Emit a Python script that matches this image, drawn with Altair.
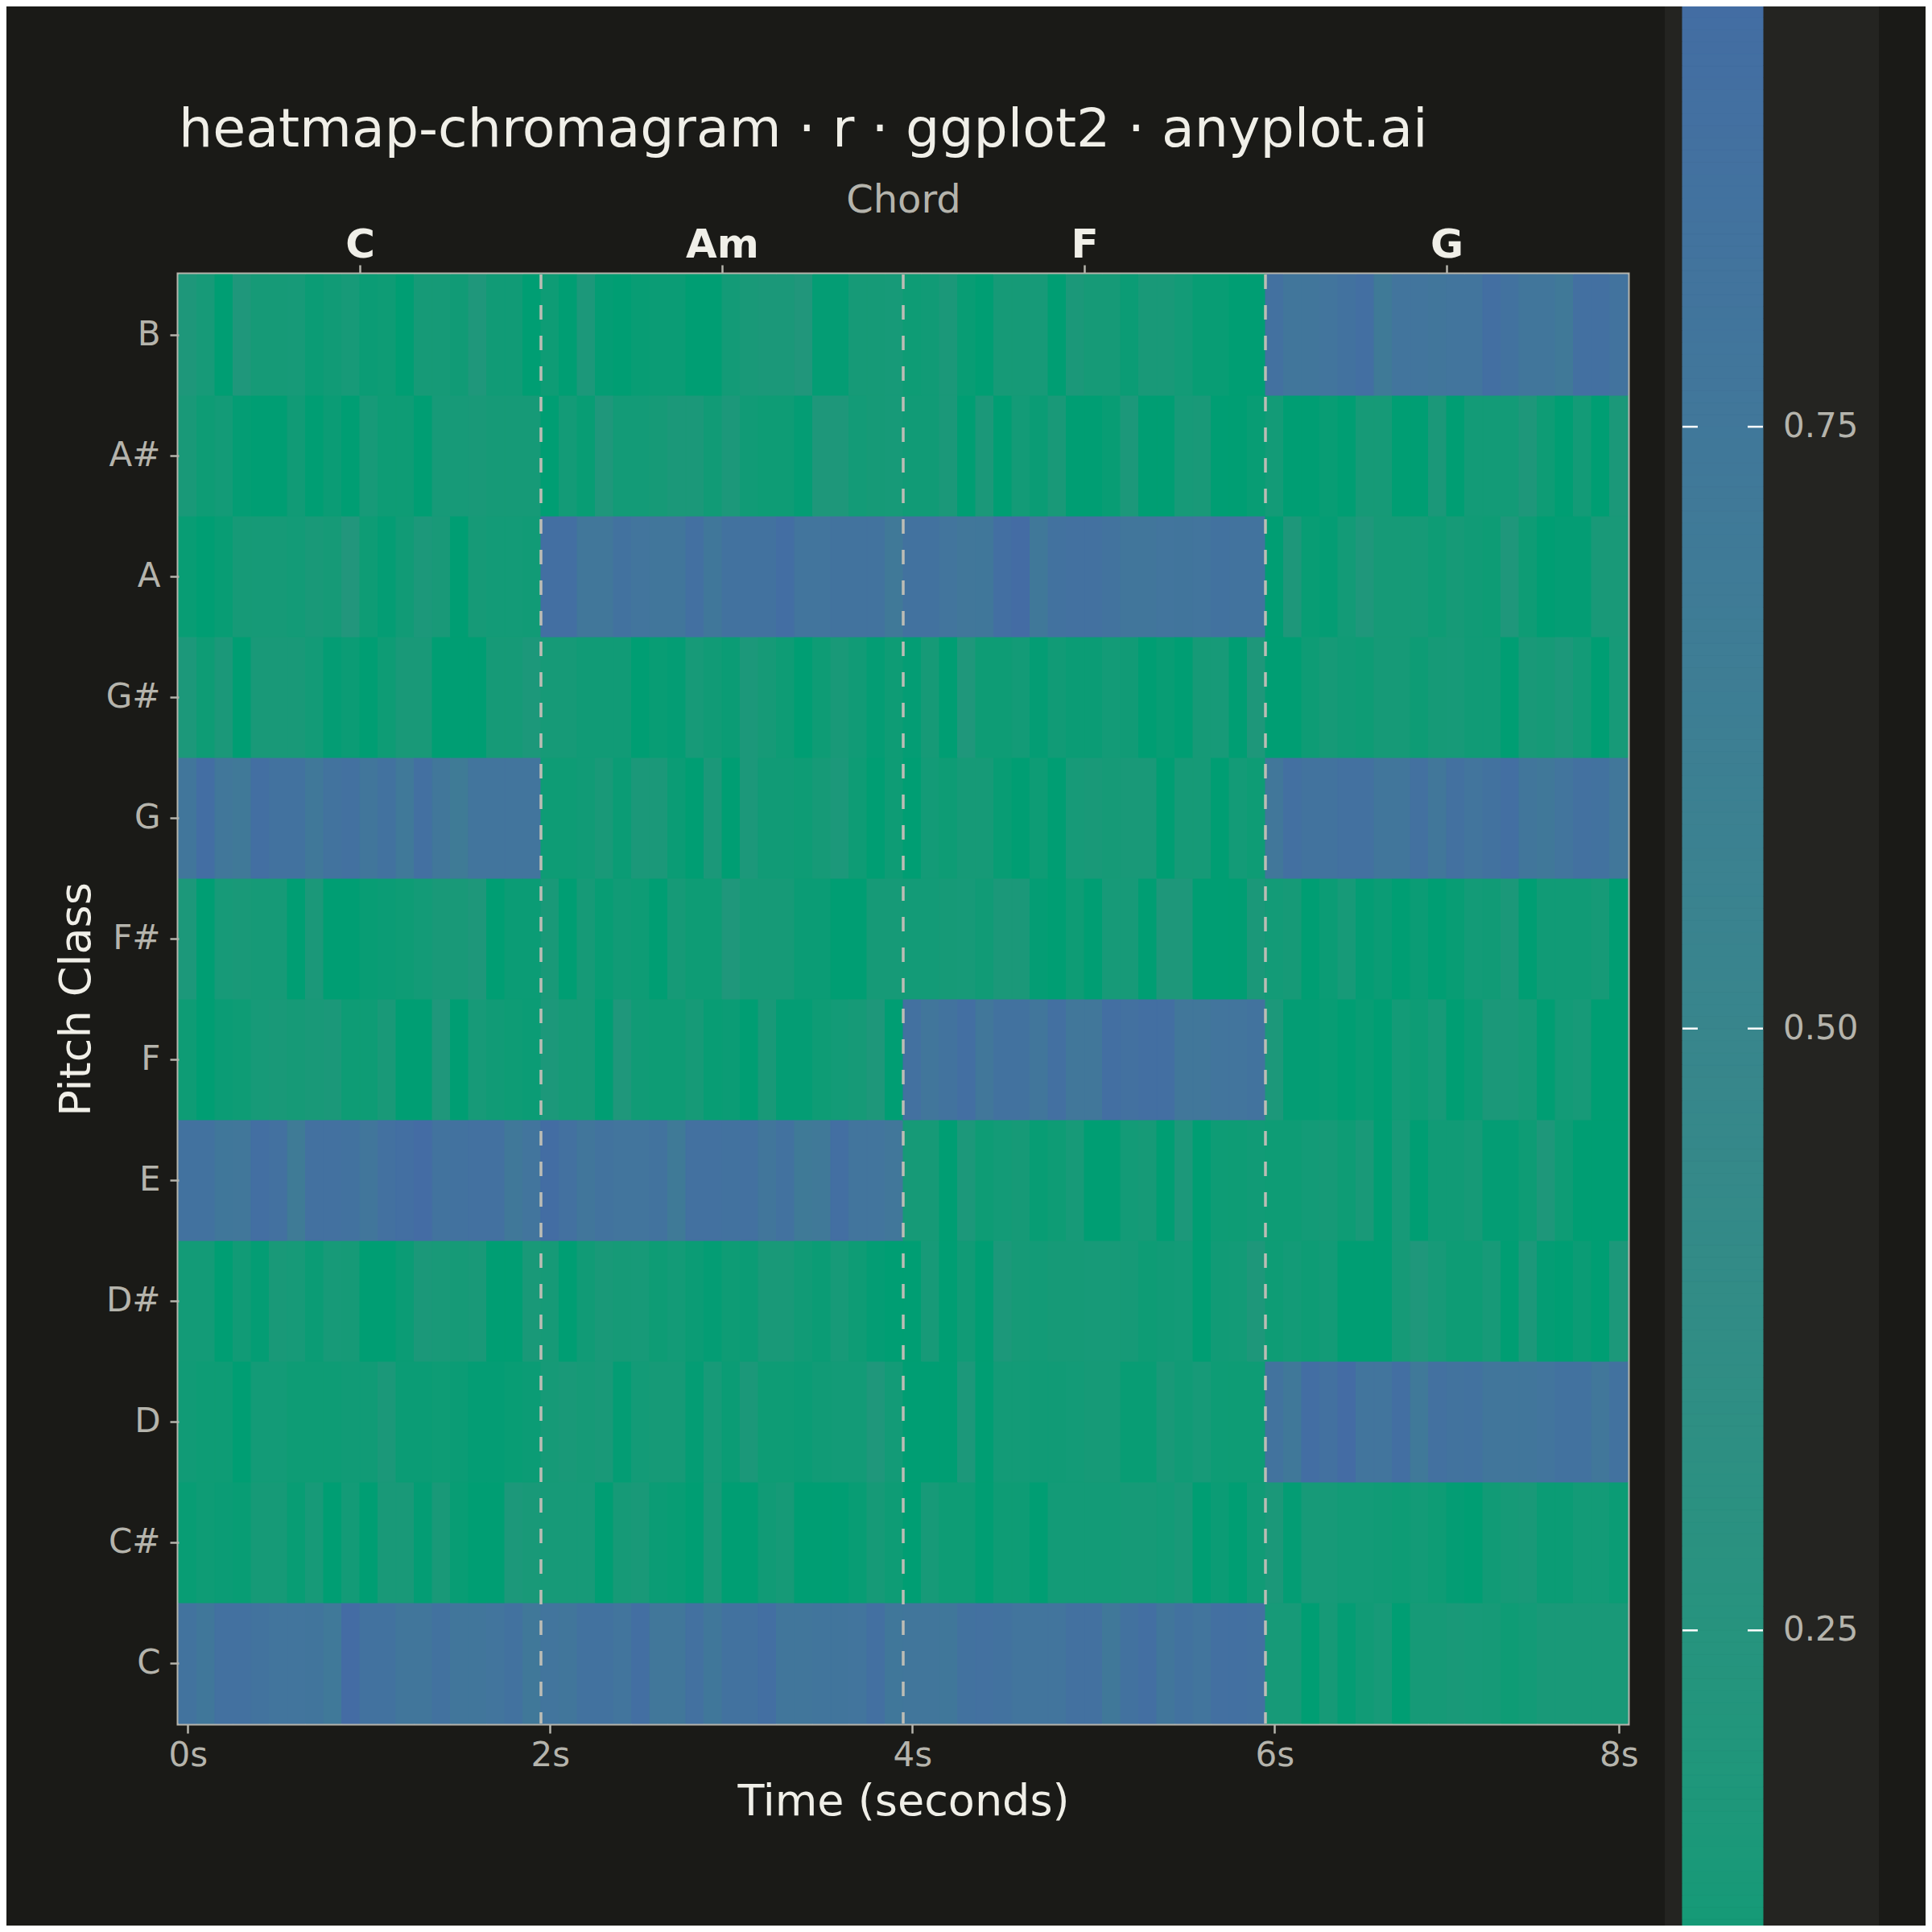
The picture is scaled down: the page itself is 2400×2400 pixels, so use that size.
import altair as alt
import pandas as pd

# ---------------- data ----------------
PITCHES = ["C", "C#", "D", "D#", "E", "F", "F#", "G", "G#", "A", "A#", "B"]
CHORDS = ["C", "Am", "F", "G"]
CHORD_CENTERS = [0.95, 2.95, 4.95, 6.95]
CHORD_BOUNDS = [1.95, 3.95, 5.95]
TIME_TICKS = [0, 2, 4, 6, 7.9]
TIME_LABELS = ["0s", "2s", "4s", "6s", "8s"]
FRAME_STEP = 0.1
COLORBAR_TICKS = [0.25, 0.5, 0.75]
COLORBAR_LABELS = ["0.25", "0.50", "0.75"]
TITLE = "heatmap-chromagram · r · ggplot2 · anyplot.ai"

B_VALS = [0.18, 0.14, 0.05, 0.19, 0.13, 0.13, 0.14, 0.09, 0.11, 0.14, 0.09, 0.10, 0.05, 0.13, 0.13, 0.11, 0.19, 0.11, 0.11, 0.06,
          0.10, 0.05, 0.17, 0.07, 0.06, 0.08, 0.09, 0.09, 0.05, 0.05, 0.12, 0.15, 0.16, 0.16, 0.20, 0.07, 0.07, 0.13, 0.13, 0.14,
          0.10, 0.11, 0.16, 0.08, 0.05, 0.13, 0.13, 0.14, 0.05, 0.16, 0.13, 0.13, 0.09, 0.15, 0.15, 0.12, 0.08, 0.08, 0.06, 0.05,
          0.86, 0.78, 0.78, 0.80, 0.84, 0.90, 0.70, 0.80, 0.80, 0.78, 0.80, 0.80, 0.90, 0.84, 0.78, 0.78, 0.72, 0.88, 0.88, 0.82]
AS_VALS = [0.15, 0.10, 0.12, 0.07, 0.05, 0.05, 0.11, 0.05, 0.09, 0.05, 0.14, 0.10, 0.10, 0.06, 0.14, 0.14, 0.15, 0.13, 0.13, 0.13,
           0.05, 0.12, 0.08, 0.19, 0.12, 0.12, 0.13, 0.16, 0.16, 0.11, 0.17, 0.11, 0.10, 0.10, 0.07, 0.18, 0.18, 0.12, 0.13, 0.14,
           0.11, 0.11, 0.16, 0.05, 0.16, 0.05, 0.12, 0.09, 0.15, 0.05, 0.05, 0.08, 0.17, 0.05, 0.05, 0.14, 0.15, 0.05, 0.06, 0.08,
           0.12, 0.05, 0.05, 0.08, 0.05, 0.13, 0.13, 0.05, 0.05, 0.16, 0.05, 0.12, 0.12, 0.12, 0.18, 0.10, 0.05, 0.12, 0.05, 0.16]
A_VALS = [0.08, 0.05, 0.08, 0.13, 0.13, 0.13, 0.12, 0.15, 0.13, 0.21, 0.10, 0.07, 0.11, 0.17, 0.15, 0.05, 0.13, 0.12, 0.12, 0.11,
          0.90, 0.90, 0.76, 0.76, 0.85, 0.80, 0.78, 0.78, 0.88, 0.75, 0.84, 0.84, 0.85, 0.92, 0.80, 0.80, 0.83, 0.83, 0.83, 0.72,
          0.84, 0.84, 0.80, 0.76, 0.75, 0.90, 0.95, 0.74, 0.84, 0.87, 0.86, 0.82, 0.78, 0.78, 0.80, 0.79, 0.80, 0.84, 0.82, 0.83,
          0.06, 0.18, 0.08, 0.07, 0.12, 0.19, 0.13, 0.13, 0.13, 0.10, 0.13, 0.11, 0.10, 0.19, 0.10, 0.05, 0.07, 0.07, 0.15, 0.15]
GS_VALS = [0.17, 0.10, 0.16, 0.05, 0.15, 0.15, 0.15, 0.12, 0.07, 0.09, 0.06, 0.10, 0.15, 0.15, 0.05, 0.05, 0.05, 0.13, 0.13, 0.17,
           0.13, 0.13, 0.11, 0.11, 0.11, 0.05, 0.08, 0.07, 0.14, 0.11, 0.09, 0.17, 0.13, 0.10, 0.05, 0.10, 0.15, 0.11, 0.07, 0.10,
           0.07, 0.13, 0.05, 0.19, 0.10, 0.10, 0.12, 0.07, 0.11, 0.09, 0.09, 0.12, 0.11, 0.06, 0.08, 0.06, 0.13, 0.14, 0.06, 0.18,
           0.06, 0.06, 0.10, 0.13, 0.11, 0.10, 0.13, 0.13, 0.10, 0.13, 0.14, 0.11, 0.11, 0.05, 0.15, 0.13, 0.17, 0.12, 0.05, 0.14]
G_VALS = [0.78, 0.92, 0.76, 0.72, 0.90, 0.85, 0.85, 0.74, 0.82, 0.87, 0.78, 0.85, 0.73, 0.88, 0.76, 0.68, 0.80, 0.80, 0.80, 0.80,
          0.10, 0.10, 0.11, 0.15, 0.09, 0.16, 0.16, 0.09, 0.05, 0.16, 0.05, 0.17, 0.11, 0.11, 0.10, 0.13, 0.17, 0.10, 0.06, 0.10,
          0.05, 0.12, 0.10, 0.13, 0.13, 0.08, 0.05, 0.10, 0.05, 0.14, 0.15, 0.13, 0.15, 0.15, 0.05, 0.13, 0.13, 0.06, 0.12, 0.10,
          0.76, 0.88, 0.82, 0.82, 0.86, 0.86, 0.78, 0.78, 0.86, 0.76, 0.87, 0.80, 0.85, 0.90, 0.78, 0.74, 0.80, 0.86, 0.84, 0.76]
FS_VALS = [0.17, 0.05, 0.14, 0.15, 0.13, 0.13, 0.06, 0.16, 0.05, 0.05, 0.08, 0.09, 0.10, 0.12, 0.15, 0.15, 0.18, 0.05, 0.09, 0.09,
           0.15, 0.05, 0.13, 0.08, 0.11, 0.10, 0.05, 0.13, 0.10, 0.10, 0.19, 0.13, 0.13, 0.13, 0.09, 0.09, 0.06, 0.06, 0.13, 0.13,
           0.12, 0.12, 0.13, 0.14, 0.11, 0.16, 0.16, 0.07, 0.05, 0.10, 0.05, 0.14, 0.14, 0.05, 0.18, 0.18, 0.05, 0.06, 0.06, 0.16,
           0.12, 0.13, 0.05, 0.09, 0.14, 0.07, 0.09, 0.05, 0.09, 0.05, 0.08, 0.12, 0.11, 0.16, 0.05, 0.11, 0.11, 0.11, 0.13, 0.05]
F_VALS = [0.10, 0.05, 0.09, 0.10, 0.14, 0.15, 0.13, 0.15, 0.16, 0.10, 0.10, 0.15, 0.06, 0.06, 0.19, 0.05, 0.14, 0.11, 0.10, 0.09,
          0.17, 0.13, 0.13, 0.06, 0.19, 0.11, 0.10, 0.10, 0.13, 0.08, 0.09, 0.06, 0.15, 0.07, 0.07, 0.10, 0.12, 0.13, 0.18, 0.05,
          0.86, 0.78, 0.82, 0.90, 0.76, 0.84, 0.84, 0.78, 0.88, 0.76, 0.76, 0.90, 0.87, 0.90, 0.90, 0.76, 0.76, 0.80, 0.80, 0.82,
          0.17, 0.07, 0.07, 0.08, 0.05, 0.08, 0.06, 0.12, 0.10, 0.14, 0.05, 0.09, 0.16, 0.16, 0.13, 0.05, 0.12, 0.14, 0.05, 0.05]
E_VALS = [0.85, 0.85, 0.75, 0.76, 0.90, 0.86, 0.68, 0.87, 0.87, 0.84, 0.78, 0.86, 0.90, 0.95, 0.82, 0.84, 0.87, 0.87, 0.74, 0.80,
          0.93, 0.87, 0.78, 0.83, 0.80, 0.80, 0.82, 0.70, 0.86, 0.86, 0.84, 0.86, 0.78, 0.85, 0.70, 0.72, 0.90, 0.80, 0.80, 0.76,
          0.13, 0.13, 0.05, 0.17, 0.10, 0.12, 0.13, 0.08, 0.10, 0.14, 0.06, 0.06, 0.12, 0.13, 0.05, 0.17, 0.05, 0.10, 0.10, 0.11,
          0.10, 0.10, 0.12, 0.13, 0.10, 0.15, 0.05, 0.14, 0.05, 0.11, 0.11, 0.13, 0.07, 0.07, 0.10, 0.18, 0.10, 0.05, 0.05, 0.05]
DS_VALS = [0.12, 0.12, 0.05, 0.11, 0.07, 0.15, 0.14, 0.09, 0.14, 0.13, 0.06, 0.05, 0.09, 0.16, 0.15, 0.13, 0.15, 0.05, 0.05, 0.15,
           0.13, 0.05, 0.11, 0.15, 0.13, 0.14, 0.10, 0.12, 0.09, 0.07, 0.10, 0.09, 0.15, 0.15, 0.11, 0.09, 0.14, 0.10, 0.07, 0.05,
           0.05, 0.14, 0.05, 0.11, 0.05, 0.17, 0.13, 0.12, 0.13, 0.13, 0.14, 0.14, 0.13, 0.10, 0.11, 0.12, 0.05, 0.11, 0.12, 0.18,
           0.10, 0.12, 0.10, 0.12, 0.06, 0.05, 0.05, 0.13, 0.19, 0.14, 0.10, 0.10, 0.14, 0.05, 0.17, 0.07, 0.05, 0.09, 0.06, 0.17]
D_VALS = [0.11, 0.10, 0.10, 0.06, 0.12, 0.12, 0.10, 0.10, 0.10, 0.11, 0.11, 0.16, 0.09, 0.09, 0.10, 0.09, 0.07, 0.07, 0.08, 0.09,
          0.13, 0.15, 0.13, 0.15, 0.07, 0.12, 0.13, 0.13, 0.07, 0.14, 0.09, 0.16, 0.10, 0.10, 0.09, 0.11, 0.12, 0.12, 0.19, 0.12,
          0.06, 0.06, 0.06, 0.17, 0.05, 0.12, 0.12, 0.11, 0.11, 0.12, 0.13, 0.13, 0.08, 0.08, 0.15, 0.11, 0.14, 0.10, 0.10, 0.10,
          0.82, 0.74, 0.92, 0.86, 0.94, 0.80, 0.80, 0.90, 0.73, 0.86, 0.82, 0.84, 0.78, 0.78, 0.78, 0.80, 0.84, 0.85, 0.76, 0.84]
CS_VALS = [0.08, 0.10, 0.09, 0.08, 0.13, 0.13, 0.08, 0.14, 0.05, 0.12, 0.05, 0.15, 0.15, 0.07, 0.15, 0.08, 0.05, 0.05, 0.17, 0.15,
           0.14, 0.14, 0.14, 0.05, 0.13, 0.15, 0.09, 0.08, 0.06, 0.15, 0.05, 0.05, 0.11, 0.13, 0.05, 0.05, 0.05, 0.08, 0.13, 0.10,
           0.05, 0.14, 0.10, 0.10, 0.05, 0.10, 0.10, 0.05, 0.12, 0.12, 0.12, 0.12, 0.13, 0.13, 0.12, 0.15, 0.05, 0.09, 0.06, 0.11,
           0.16, 0.07, 0.14, 0.14, 0.12, 0.12, 0.11, 0.10, 0.12, 0.10, 0.07, 0.05, 0.11, 0.13, 0.15, 0.09, 0.09, 0.12, 0.12, 0.09]
C_VALS = [0.83, 0.75, 0.86, 0.86, 0.82, 0.80, 0.80, 0.79, 0.73, 0.95, 0.85, 0.85, 0.77, 0.77, 0.84, 0.77, 0.77, 0.80, 0.85, 0.74,
          0.80, 0.78, 0.84, 0.84, 0.80, 0.90, 0.76, 0.76, 0.86, 0.75, 0.84, 0.84, 0.90, 0.78, 0.78, 0.79, 0.79, 0.80, 0.88, 0.75,
          0.78, 0.78, 0.75, 0.84, 0.86, 0.84, 0.80, 0.80, 0.80, 0.86, 0.86, 0.74, 0.84, 0.90, 0.78, 0.84, 0.80, 0.88, 0.88, 0.86,
          0.14, 0.14, 0.05, 0.13, 0.07, 0.11, 0.14, 0.05, 0.13, 0.13, 0.15, 0.14, 0.13, 0.10, 0.12, 0.15, 0.15, 0.15, 0.15, 0.15]

CHROMA = {"C": C_VALS, "C#": CS_VALS, "D": D_VALS, "D#": DS_VALS, "E": E_VALS, "F": F_VALS,
          "F#": FS_VALS, "G": G_VALS, "G#": GS_VALS, "A": A_VALS, "A#": AS_VALS, "B": B_VALS}

# ---------------- tables ----------------
rows = []
for p in PITCHES:
    for i, v in enumerate(CHROMA[p]):
        t = i * FRAME_STEP
        rows.append({"pitch": p, "t0": t - FRAME_STEP / 2, "t1": t + FRAME_STEP / 2, "energy": v})
df = pd.DataFrame(rows)
bounds = pd.DataFrame({"b": CHORD_BOUNDS})

# colour-bar (legend) gradient slices and ticks, drawn through the same colour scale
CB_LO, CB_HI, CB_STEP = 0.06, 1.0, 0.005
n_steps = int(round((CB_HI - CB_LO) / CB_STEP))
grad = pd.DataFrame({"v0": [CB_LO + k * CB_STEP for k in range(n_steps)]})
grad["v1"] = grad["v0"] + CB_STEP
grad["vc"] = grad["v0"] + CB_STEP / 2
cb_ticks = pd.DataFrame({"v": COLORBAR_TICKS, "lab": COLORBAR_LABELS})

# ---------------- style ----------------
BG = "#1A1A17"
GREY = "#B5B4AC"
WHITE = "#F0EFE8"
FONT = "DejaVu Sans"
X_DOMAIN = [-FRAME_STEP / 2, 8 - FRAME_STEP / 2]

cscale = alt.Scale(domain=[CB_LO, CB_HI], range=["#009E73", "#4469A7"], interpolate="lab", clamp=True)
# colour-bar position: value 1.0 sits above the picture, 0.06 below it (as in the reference)
cb_y = alt.Scale(domain=[CB_LO, CB_HI], range=[2252.5, -558.5], nice=False, zero=False)
CB_X0, CB_X1 = 1868, 1968  # bar edges, relative to plot origin

bottom_expr = "{}[indexof({}, datum.value)]".format(
    "[" + ",".join("'%s'" % s for s in TIME_LABELS) + "]",
    "[" + ",".join(str(v) for v in TIME_TICKS) + "]")
top_expr = "{}[indexof({}, datum.value)]".format(
    "[" + ",".join("'%s'" % s for s in CHORDS) + "]",
    "[" + ",".join(str(v) for v in CHORD_CENTERS) + "]")

heat = alt.Chart(df).mark_rect(strokeWidth=1).encode(
    x=alt.X("t0:Q", scale=alt.Scale(domain=X_DOMAIN, nice=False, zero=False),
            axis=alt.Axis(values=TIME_TICKS, labelExpr=bottom_expr, title="Time (seconds)",
                          titleFontSize=54, titleColor=WHITE, titleFontWeight="normal", titlePadding=10,
                          labelFontSize=42, labelColor=GREY, labelPadding=7, labelFlush=False,
                          tickSize=12, tickWidth=2.5, tickColor=GREY, domain=False, grid=False)),
    x2="t1:Q",
    y=alt.Y("pitch:N", sort=list(reversed(PITCHES)),
            scale=alt.Scale(paddingInner=0, paddingOuter=0),
            axis=alt.Axis(title="Pitch Class", titleFontSize=54, titleColor=WHITE,
                          titleFontWeight="normal", titlePadding=9,
                          labelFontSize=42, labelColor=GREY, labelPadding=12,
                          tickSize=11, tickWidth=2.5, tickColor=GREY, domain=False, grid=False)),
    color=alt.Color("energy:Q", scale=cscale, legend=None),
    stroke=alt.Stroke("energy:Q", scale=cscale, legend=None),
)

rules = alt.Chart(bounds).mark_rule(color="#BDBDB5", strokeWidth=3.5, strokeDash=[18, 20]).encode(
    x=alt.X("b:Q", scale=alt.Scale(domain=X_DOMAIN, nice=False, zero=False),
            axis=alt.Axis(orient="top", values=CHORD_CENTERS, labelExpr=top_expr, title="Chord",
                          titleFontSize=48, titleColor=GREY, titleFontWeight="normal", titlePadding=6,
                          labelFontSize=50, labelFontWeight="bold", labelColor=WHITE, labelPadding=0,
                          labelFlush=False, tickSize=12, tickWidth=2.5, tickColor=GREY,
                          domain=False, grid=False)),
)

cb_box = alt.Chart(pd.DataFrame({"k": [0]})).mark_rect(color="#242421").encode(
    x=alt.value(1846), x2=alt.value(2112), y=alt.value(-340), y2=alt.value(2060),
)
cb_bar = alt.Chart(grad).mark_rect(strokeWidth=1).encode(
    x=alt.value(CB_X0), x2=alt.value(CB_X1),
    y=alt.Y("v0:Q", scale=cb_y, axis=None), y2="v1:Q",
    color=alt.Color("vc:Q", scale=cscale, legend=None),
    stroke=alt.Stroke("vc:Q", scale=cscale, legend=None),
)
cb_tick_l = alt.Chart(cb_ticks).mark_rule(color="#FFFFFF", strokeWidth=2.5).encode(
    x=alt.value(CB_X0), x2=alt.value(CB_X0 + 19), y=alt.Y("v:Q", scale=cb_y, axis=None),
)
cb_tick_r = alt.Chart(cb_ticks).mark_rule(color="#FFFFFF", strokeWidth=2.5).encode(
    x=alt.value(CB_X1 - 19), x2=alt.value(CB_X1), y=alt.Y("v:Q", scale=cb_y, axis=None),
)
cb_text = alt.Chart(cb_ticks).mark_text(align="left", baseline="middle", fontSize=42, font=FONT,
                                        color=GREY).encode(
    x=alt.value(1993), y=alt.Y("v:Q", scale=cb_y, axis=None), text="lab:N",
)
title = alt.Chart(pd.DataFrame({"t": [TITLE]})).mark_text(
    align="left", baseline="alphabetic", fontSize=66.6, font=FONT, color=WHITE).encode(
    x=alt.value(0), y=alt.value(-159), text="t:N",
)

chart = alt.layer(heat, rules, cb_box, cb_bar, cb_tick_l, cb_tick_r, cb_text, title).resolve_scale(
    x="independent", y="independent"
).properties(
    width=1800,
    height=1800,
    padding={"left": 214, "top": 333, "right": 370, "bottom": 251},
    autosize=alt.AutoSizeParams(type="none"),
).configure(
    background=BG,
    font=FONT,
).configure_view(
    stroke=GREY, strokeWidth=5,
).configure_axis(
    labelFont=FONT, titleFont=FONT,
)

chart.save("out.html", embed_options={"renderer": "svg", "actions": False})
